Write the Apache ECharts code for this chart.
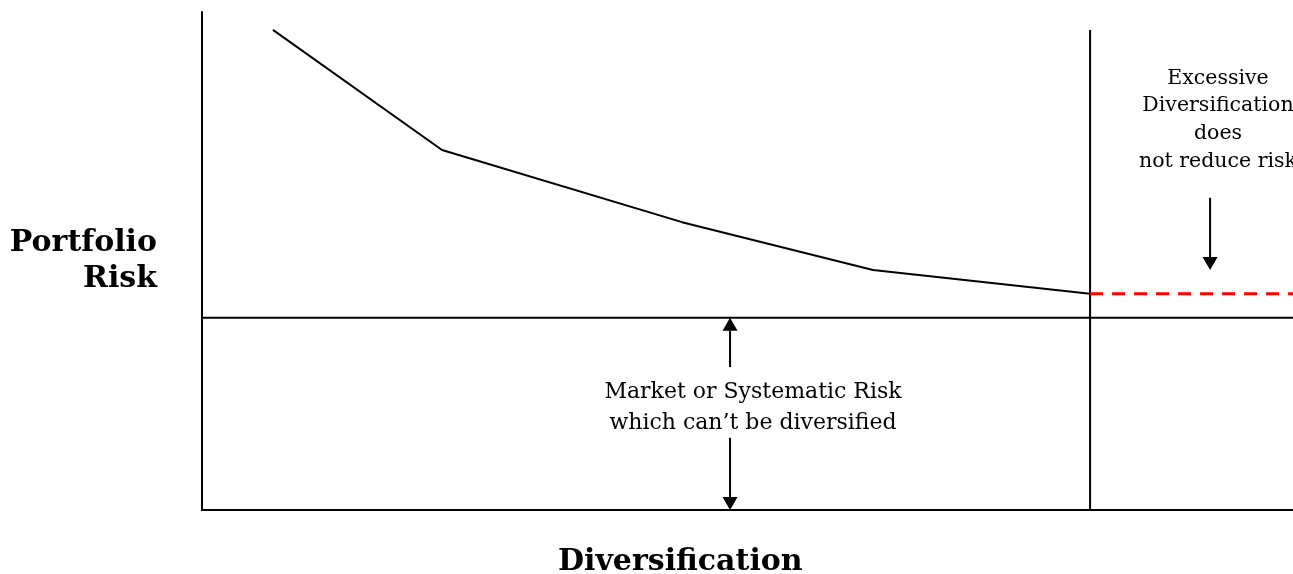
<!DOCTYPE html>
<html>
<head>
<meta charset="utf-8">
<script src="https://cdn.jsdelivr.net/npm/echarts@6/dist/echarts.min.js"></script>
<style>
html,body{margin:0;padding:0;background:#fff;}
#chart{width:1293px;height:574px;}
</style>
</head>
<body>
<div id="chart"></div>
<script>
// ---- data (abstract units: diversification 0..100, risk 0..100) ----
const curveX = [6.5, 22.0, 44.0, 61.5, 81.4];
const curveY = [96.4, 72.3, 57.8, 48.2, 43.4];
const marketRisk = 38.6;
const thresholdX = 81.4;
const thresholdTop = 96.4;
const excessStartX = 81.4;
const excessEndX = 100;
const excessRisk = 43.4;
const arrowX = [48.4, 48.4, 92.4];
const arrowFrom = [28.7, 14.5, 62.7];
const arrowTo = [38.6, 0, 48.2];
const axisTitles = ['Portfolio\nRisk', 'Diversification'];
const notes = ['Market or Systematic Risk\nwhich can\u2019t be diversified',
               'Excessive\nDiversification\ndoes\nnot reduce risk'];

const chart = echarts.init(document.getElementById('chart'), null, {renderer: 'canvas'});
const serif = '"DejaVu Serif", serif';

const option = {
  animation: false,
  backgroundColor: '#fff',
  grid: {left: 202, right: 0, top: 12, bottom: 64, containLabel: false},
  xAxis: {
    type: 'value', min: 0, max: 100,
    axisLine: {show: true, onZero: false, lineStyle: {color: '#000', width: 2}},
    axisTick: {show: false}, axisLabel: {show: false}, splitLine: {show: false}
  },
  yAxis: {
    type: 'value', min: 0, max: 100,
    name: axisTitles[0], nameLocation: 'middle', nameRotate: 0, nameGap: 45,
    nameTextStyle: {fontFamily: serif, fontWeight: 'bold', fontSize: 30, lineHeight: 36, color: '#000', align: 'right', verticalAlign: 'middle'},
    axisLine: {show: true, onZero: false, lineStyle: {color: '#000', width: 2}},
    axisTick: {show: false}, axisLabel: {show: false}, splitLine: {show: false}
  },
  graphic: [
    {type: 'text', left: 558, top: 547, silent: true,
     style: {text: axisTitles[1], font: 'bold 30px ' + serif, fill: '#000'}},
    {type: 'text', x: 753, y: 408, silent: true,
     style: {text: notes[0], font: '22px ' + serif, fill: '#000', align: 'center', verticalAlign: 'middle', lineHeight: 31}},
    {type: 'text', x: 1218, y: 120, silent: true,
     style: {text: notes[1], font: '20.5px ' + serif, fill: '#000', align: 'center', verticalAlign: 'middle', lineHeight: 27.7}}
  ],
  series: [
    {type: 'line', silent: true, showSymbol: false, symbol: 'none',
     data: curveX.map((x, i) => [x, curveY[i]]),
     lineStyle: {color: '#000', width: 2}},
    {type: 'line', silent: true, showSymbol: false, symbol: 'none',
     data: [[0, marketRisk], [100, marketRisk]],
     lineStyle: {color: '#000', width: 2}},
    {type: 'line', silent: true, showSymbol: false, symbol: 'none',
     data: [[thresholdX, 0], [thresholdX, thresholdTop]],
     lineStyle: {color: '#000', width: 2}},
    {type: 'line', silent: true, showSymbol: false, symbol: 'none', z: 3,
     data: [[excessStartX, excessRisk], [excessEndX, excessRisk]],
     lineStyle: {color: '#ff0000', width: 3, type: [13, 9]}},
    {type: 'custom', silent: true, z: 4,
     data: arrowX.map((x, i) => [x, arrowFrom[i], arrowTo[i]]),
     encode: {x: 0, y: [1, 2]},
     renderItem: function (params, api) {
       const a = api.coord([api.value(0), api.value(1)]);
       const b = api.coord([api.value(0), api.value(2)]);
       const dir = b[1] > a[1] ? 1 : -1;
       const head = 13, half = 7.5;
       return {type: 'group', children: [
         {type: 'line', shape: {x1: a[0], y1: a[1], x2: b[0], y2: b[1] - dir * head},
          style: {stroke: '#000', lineWidth: 2}},
         {type: 'polygon', shape: {points: [[b[0], b[1]], [b[0] - half, b[1] - dir * head], [b[0] + half, b[1] - dir * head]]},
          style: {fill: '#000'}}
       ]};
     }}
  ]
};
chart.setOption(option);
</script>
</body>
</html>
